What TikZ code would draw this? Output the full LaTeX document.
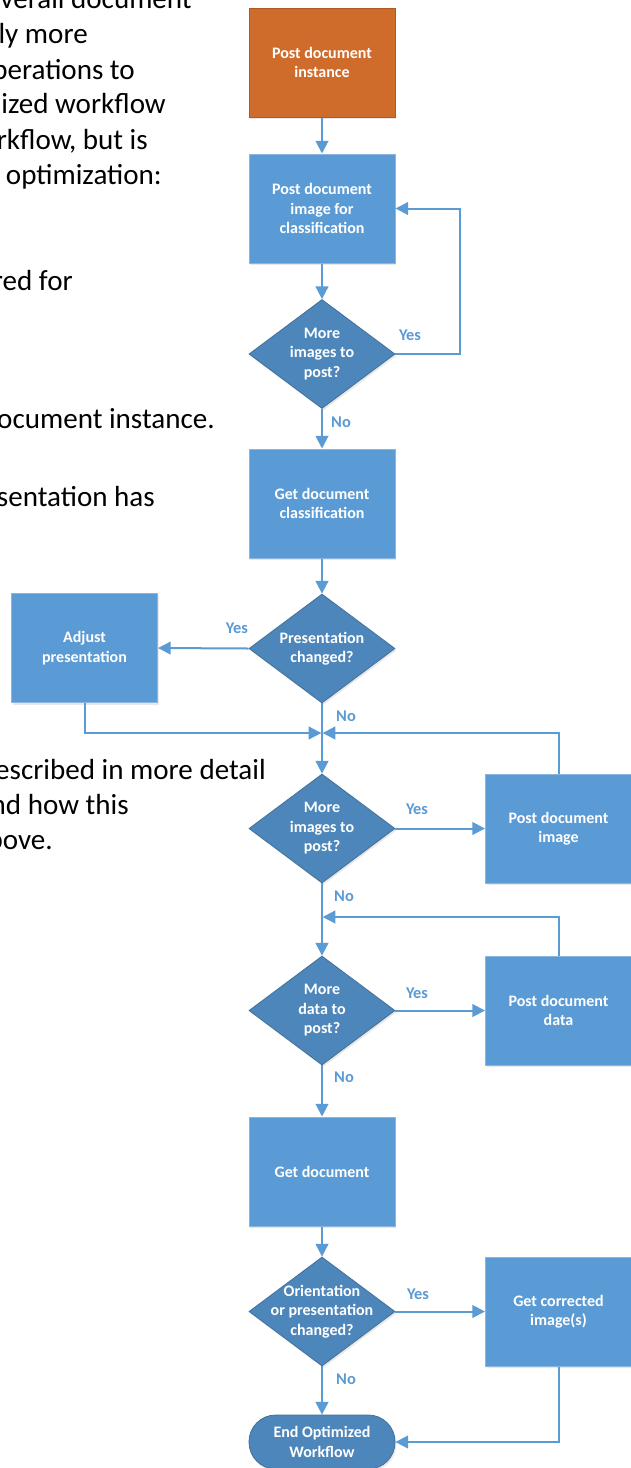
\documentclass[tikz,border=0pt]{standalone}
\usepackage{fontspec}
\setmainfont{Carlito}
\usetikzlibrary{shapes.geometric,arrows.meta,shadows}
\definecolor{boxblue}{HTML}{5B9BD5}
\definecolor{boxline}{HTML}{8DB6DF}
\definecolor{diablue}{HTML}{4D86BA}
\definecolor{dialine}{HTML}{41719C}
\definecolor{orangefill}{HTML}{D06C2B}
\definecolor{orangeline}{HTML}{AE5A26}
\definecolor{arrowblue}{HTML}{5B9BD5}
\tikzset{
  shad/.style={drop shadow={opacity=0.18, shadow xshift=1pt, shadow yshift=-1.5pt, fill=gray}},
  txt/.style={text=white, align=center, font=\bfseries\fontsize{12}{14.6}\selectfont},
  procbox/.style={rectangle, draw=boxline, line width=0.75pt, fill=boxblue, minimum width=109.5pt, minimum height=81.75pt, inner sep=2pt, shad, txt},
  startbox/.style={procbox, draw=orangeline, fill=orangefill},
  dia/.style={diamond, draw=dialine, line width=0.6pt, fill=diablue, minimum width=109.5pt, minimum height=81.75pt, inner sep=0pt, shad},
  dtxt/.style={txt, inner sep=0pt},
  term/.style={rectangle, rounded corners=20pt, draw=dialine, line width=0.6pt, fill=diablue, minimum width=109.5pt, minimum height=40.5pt, inner sep=0pt, shad, txt},
  arr/.style={draw=arrowblue, line width=1.5pt, -{Triangle[length=9.5pt,width=9.5pt]}},
  lbl/.style={text=arrowblue, font=\bfseries\fontsize{12.3}{14.6}\selectfont, inner sep=0pt},
  bg/.style={text=black, font=\fontsize{21.8}{26}\selectfont, inner sep=0pt, anchor=base east}
}
\begin{document}
\begin{tikzpicture}[x=0.75pt, y=-0.75pt]
\useasboundingbox (0,0) rectangle (631,1468);
\clip (0,0) rectangle (631,1468);
\fill[white] (0,0) rectangle (631,1468);
% background paragraph fragments
\node[bg] (b1) at (192,8) {verall document};
\node[bg] (b2) at (88,43) {ly more};
\node[bg] (b3) at (135,79) {perations to};
\node[bg] (b4) at (166,113) {ized workflow};
\node[bg] (b5) at (148,149) {rkflow, but is};
\node[bg] (b6) at (162,184) {optimization:};
\node[bg] (b7) at (73,290) {red for};
\node[bg] (b8) at (215,428) {ocument instance.};
\node[bg] (b9) at (155,506) {sentation has};
\node[bg] (b10) at (266,779) {escribed in more detail};
\node[bg] (b11) at (129,814) {nd how this};
\node[bg] (b12) at (53,849) {bove.};
% nodes
\node[startbox] (n1) at (322,62.5) {Post document\\instance};
\node[procbox] (n2) at (322,208.5) {Post document\\image for\\classification};
\node[dia, label={[dtxt]center:{More\\images to\\post?}}] (d1) at (322,354) {};
\node[procbox] (n3) at (322,503.5) {Get document\\classification};
\node[dia, label={[dtxt]center:{Presentation\\changed?}}] (d2) at (322,648.5) {};
\node[procbox] (adj) at (84.5,648) {Adjust\\presentation};
\node[dia, label={[dtxt]center:{More\\images to\\post?}}] (d3) at (322,828.5) {};
\node[procbox] (pdi) at (558.5,828.5) {Post document\\image};
\node[dia, label={[dtxt]center:{More\\data to\\post?}}] (d4) at (322,1010.5) {};
\node[procbox] (pdd) at (558.5,1010.5) {Post document\\data};
\node[procbox] (n4) at (322,1171.5) {Get document};
\node[dia, label={[dtxt]center:{Orientation\\or presentation\\changed?}}] (d5) at (322,1311.5) {};
\node[procbox] (gci) at (558.5,1311.5) {Get corrected\\image(s)};
\node[term] (end) at (322,1442) {End Optimized\\Workflow};
\coordinate (r1) at (460,0);
\coordinate (m1) at (322,733);
\coordinate (m2) at (322,917);
% connectors
\draw[arr] (n1.south) -- (n2.north);
\draw[arr] (n2.south) -- (d1.north);
\draw[arr] (d1.east) -- (d1.east -| r1) |- (n2.east);
\draw[arr] (d1.south) -- (n3.north);
\draw[arr] (n3.south) -- (d2.north);
\draw[arr] (d2.west) -- (adj.east);
\draw[arr, shorten >=0.5pt] (adj.south) |- (m1);
\draw[arr] (d2.south) -- (d3.north);
\draw[arr, shorten >=0.5pt] (pdi.north) |- (m1);
\draw[arr] (d3.east) -- (pdi.west);
\draw[arr] (d3.south) -- (d4.north);
\draw[arr, shorten >=0.5pt] (pdd.north) |- (m2);
\draw[arr] (d4.east) -- (pdd.west);
\draw[arr] (d4.south) -- (n4.north);
\draw[arr] (n4.south) -- (d5.north);
\draw[arr] (d5.east) -- (gci.west);
\draw[arr] (d5.south) -- (end.north);
\draw[arr] (gci.south) |- (end.east);
% labels
\node[lbl] (y1) at (410,335) {Yes};
\node[lbl] (no1) at (341,422) {No};
\node[lbl] (y2) at (237,628) {Yes};
\node[lbl] (no2) at (346,716) {No};
\node[lbl] (y3) at (417,809) {Yes};
\node[lbl] (no3) at (344,896) {No};
\node[lbl] (y4) at (417,993) {Yes};
\node[lbl] (no4) at (344,1077) {No};
\node[lbl] (y5) at (418,1294) {Yes};
\node[lbl] (no5) at (346,1379) {No};
\end{tikzpicture}
\end{document}
